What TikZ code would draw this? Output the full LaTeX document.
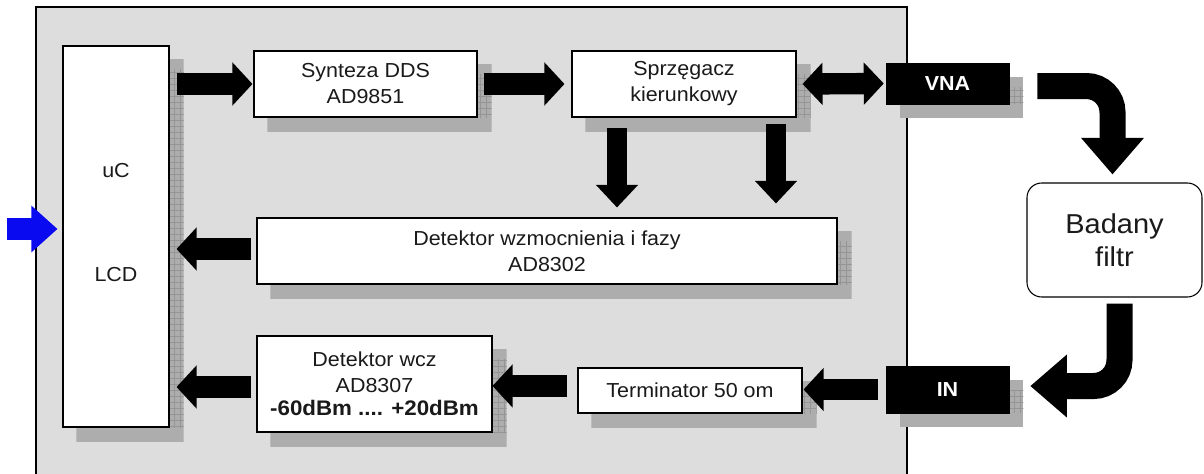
\documentclass[tikz,border=0pt]{standalone}
\usepackage{fontspec}
\setmainfont{Liberation Sans}[FakeStretch=1.06]
\usetikzlibrary{arrows.meta}
\pgfdeclarelayer{bg}\pgfdeclarelayer{shad}\pgfsetlayers{bg,shad,main}
\definecolor{panel}{HTML}{DDDDDD}
\definecolor{shadfill}{HTML}{ADADAD}
\definecolor{shadline}{HTML}{959595}
\definecolor{txt}{HTML}{1A1A1A}
\definecolor{bluearr}{HTML}{0A0AF0}
\newcommand{\shadowof}[1]{%
\begin{pgfonlayer}{shad}
\begin{scope}
\clip ([shift={(14,14)}]#1.south west) rectangle ([shift={(14,14)}]#1.north east);
\fill[shadfill] ([shift={(14,14)}]#1.south west) rectangle ([shift={(14,14)}]#1.north east);
\draw[shadline, line width=0.35pt, step=4.5pt] ([shift={(0,0)}]#1.south west) grid ([shift={(24,24)}]#1.north east);
\end{scope}
\end{pgfonlayer}}
\tikzset{
  blockbox/.style={draw=black, line width=0.8pt, fill=white, inner sep=0pt, text=txt, align=center,
     font=\fontsize{15.2pt}{19.5pt}\selectfont},
  portbox/.style={draw=black, fill=black, inner sep=0pt, text=white, align=center,
     font=\fontsize{15.2pt}{19.5pt}\selectfont\bfseries, minimum width=92.25pt},
  blk/.style={black, line width=16pt, -{Triangle[length=15pt,width=31.5pt]}},
  blkdbl/.style={black, line width=16pt, {Triangle[length=15pt,width=31pt]}-{Triangle[length=15pt,width=31pt]}},
  dn/.style={black, line width=15pt, -{Triangle[length=17pt,width=30.75pt]}},
  curv/.style={black, line width=19.5pt, rounded corners=19.5pt, -{Triangle[length=27.5pt,width=45.5pt]}},
  bluearrow/.style={bluearr, line width=17pt, -{Triangle[length=19.5pt,width=33.75pt]}},
  lbl/.style={inner sep=0pt, text=txt, font=\fontsize{15.2pt}{19.5pt}\selectfont}
}
\begin{document}
\begin{tikzpicture}[x=0.75pt,y=-0.75pt]
\useasboundingbox (0,0) rectangle (1204,474);
\begin{pgfonlayer}{bg}
\draw[fill=panel, line width=0.9pt] (36,7) rectangle (907,490);
\end{pgfonlayer}

% boxes
\node[blockbox, minimum width=79.5pt, minimum height=285.75pt] (uc) at (116,236.5) {};
\node[lbl] (uctext) at (116,171) {uC};
\node[lbl] (lcdtext) at (116,275) {LCD};
\node[blockbox, minimum width=167.25pt, minimum height=49.5pt] (dds) at (365.5,84) {Synteza DDS\\AD9851};
\node[blockbox, minimum width=168pt, minimum height=49.5pt] (sprz) at (684,84) {Sprzęgacz\\kierunkowy};
\node[portbox, minimum height=30.75pt] (vna) at (947.5,83.5) {VNA};
\node[blockbox, minimum width=435pt, minimum height=49.5pt] (det1) at (547,251) {Detektor wzmocnienia i fazy\\AD8302};
\node[blockbox, minimum width=176.25pt, minimum height=72pt] (det2) at (374.5,384)
  {Detektor wcz\\AD8307\\[-2pt]{\bfseries\fontsize{15.8pt}{18pt}\selectfont -60dBm .... +20dBm}};
\node[blockbox, minimum width=168pt, minimum height=33.75pt] (term) at (690,390.5) {Terminator 50 om};
\node[portbox, minimum height=35.25pt] (in) at (947.5,389.5) {IN};
\node[draw=black, line width=0.8pt, fill=white, rounded corners=11pt, minimum width=131.25pt, minimum height=85.5pt,
  align=center, text=txt, inner sep=0pt, font=\fontsize{20.5pt}{25pt}\selectfont] (filt) at (1114.5,240) {Badany\\filtr};

% shadows
\shadowof{uc}
\shadowof{dds}
\shadowof{sprz}
\shadowof{vna}
\shadowof{det1}
\shadowof{det2}
\shadowof{term}
\shadowof{in}

% connectors
\coordinate (bs) at (7,229);
\draw[bluearrow] (bs) -- ([xshift=-3.75pt]uc.west |- bs);
\draw[blk] ([xshift=5.25pt]uc.east |- dds.west) -- ([xshift=-0.75pt]dds.west);
\draw[blk] ([xshift=4.5pt]dds.east) -- ([xshift=-5.25pt]sprz.west);
\draw[blkdbl] ([xshift=4.5pt]sprz.east) -- ([xshift=-1.5pt]vna.west);
\draw[dn] ([xshift=-50.25pt,yshift=-7.5pt]sprz.south) -- ([xshift=-50.25pt,yshift=7.5pt]sprz.south |- det1.north);
\draw[dn] ([xshift=69pt,yshift=-4.5pt]sprz.south) -- ([xshift=69pt,yshift=10.5pt]sprz.south |- det1.north);
\draw[blk] ([xshift=-3.75pt,yshift=1.5pt]det1.west) -- ([xshift=5.25pt,yshift=1.5pt]uc.east |- det1.west);
\draw[blk] ([xshift=-3.75pt,yshift=-2.25pt]det2.west) -- ([xshift=5.25pt,yshift=-2.25pt]uc.east |- det2.west);
\draw[blk] ([xshift=-7.5pt,yshift=3.4pt]term.west) -- ([yshift=3.4pt]det2.east |- term.west);
\draw[blk] ([xshift=-6pt]in.west) -- ([xshift=0.75pt]term.east |- in.west);
\draw[curv] ([xshift=21pt,yshift=-1.9pt]vna.east) -| ([xshift=-1.5pt,yshift=6pt]filt.north);
\draw[curv] ([xshift=3.75pt,yshift=-4.5pt]filt.south) |- ([xshift=15.75pt,yshift=2.6pt]in.east);
\end{tikzpicture}
\end{document}
